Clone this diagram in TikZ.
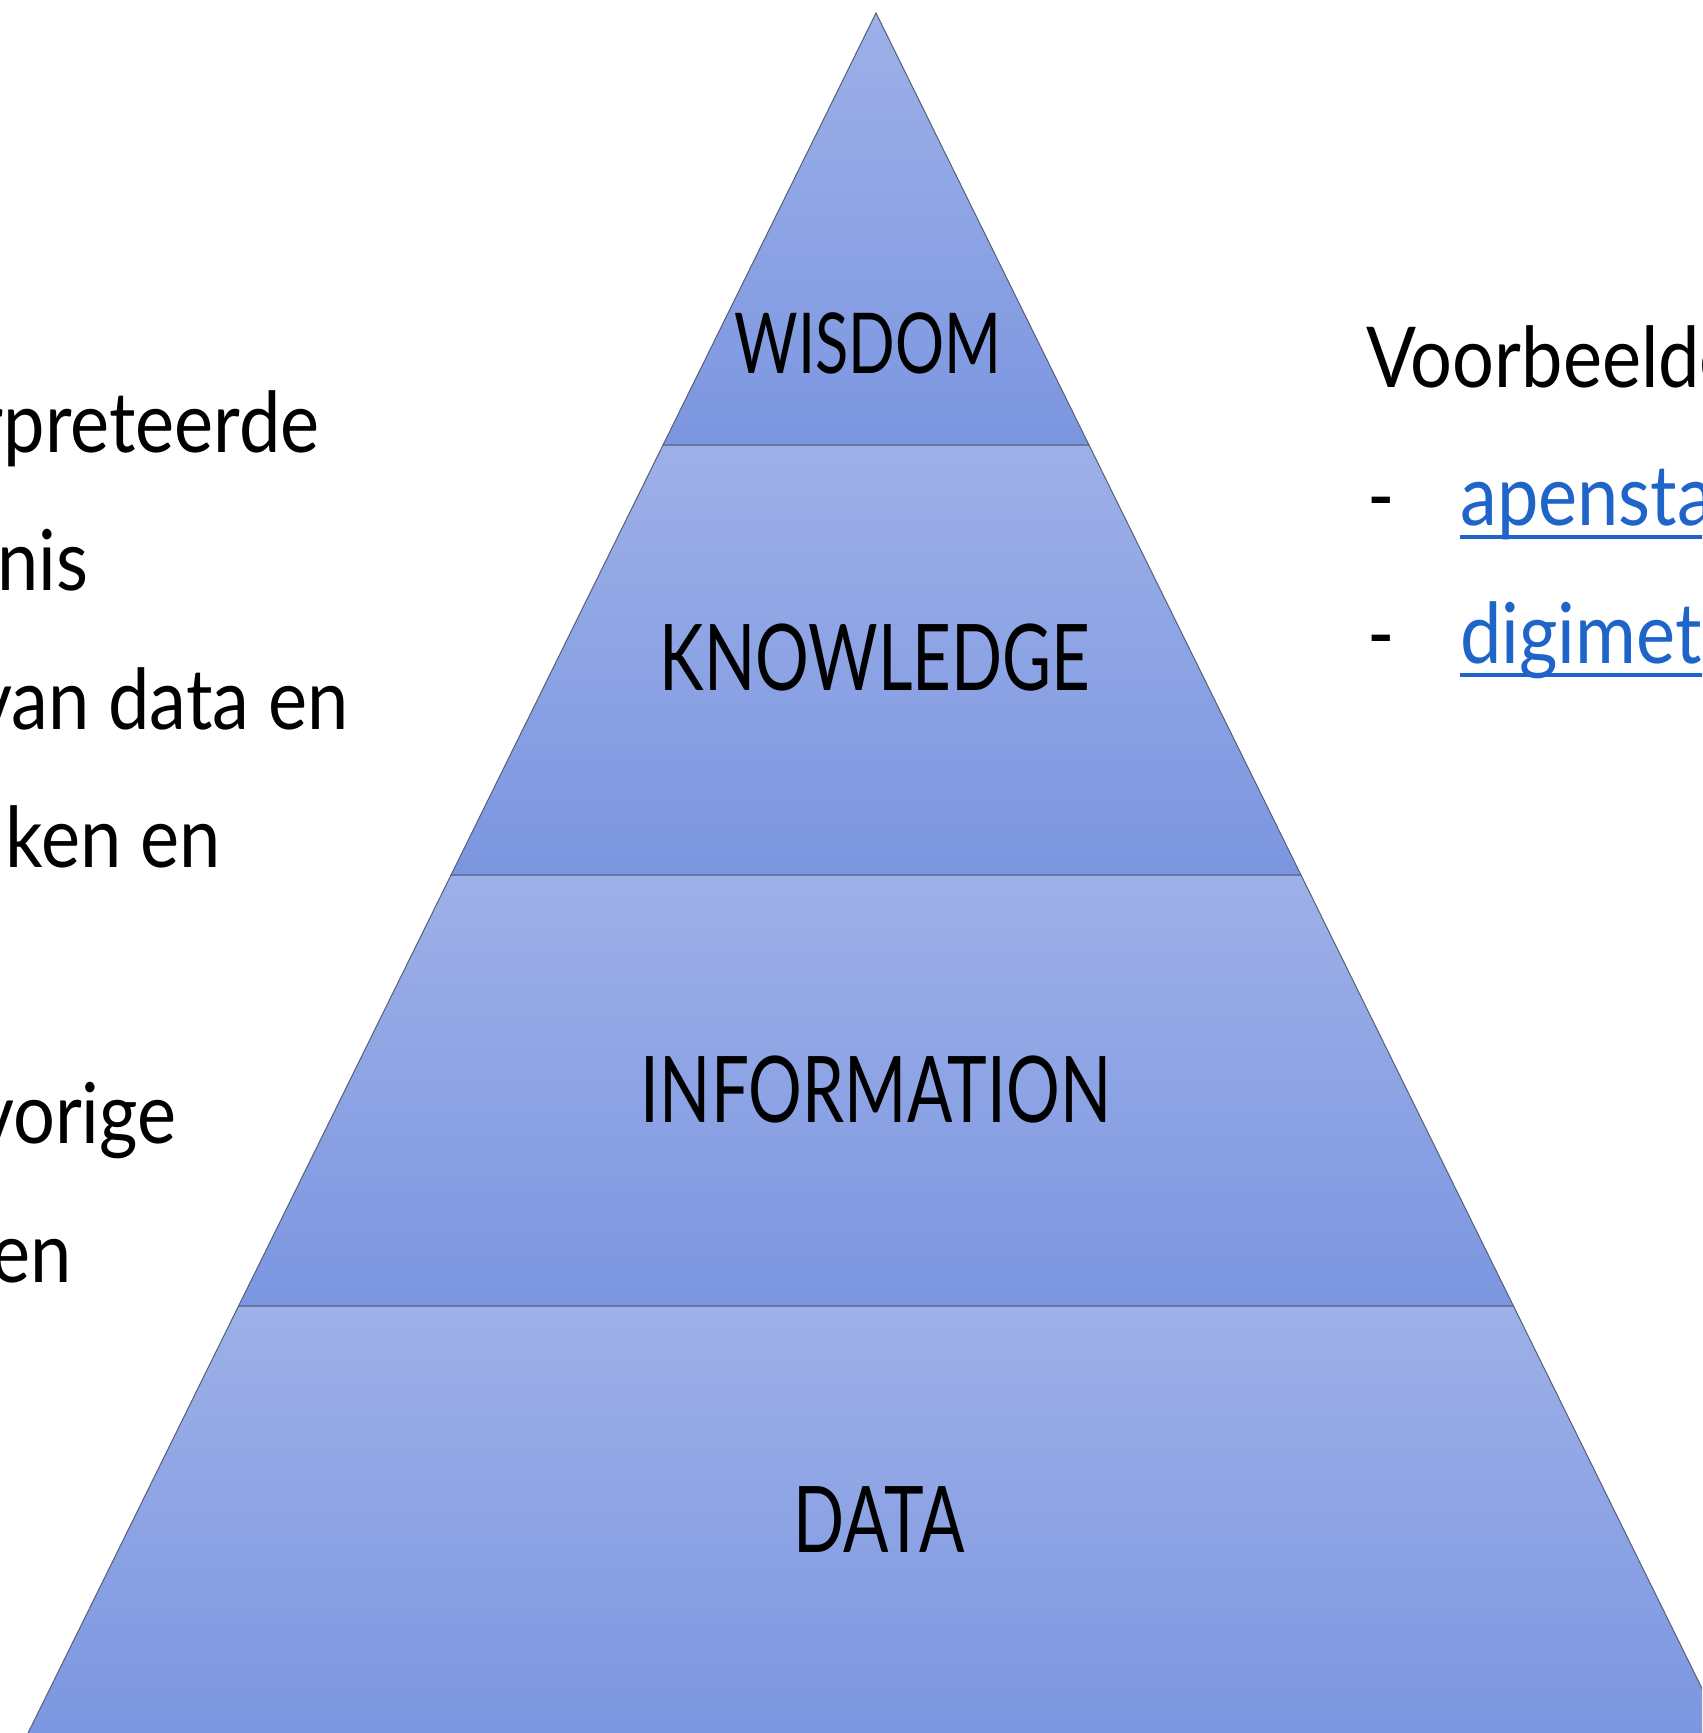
\documentclass[tikz,border=0pt]{standalone}
\usepackage{fontspec}
\setmainfont{Lato}[FakeStretch=0.88]
\newfontfamily\layerfont{Lato}[FakeStretch=0.73]
\usetikzlibrary{positioning}
\definecolor{layerTop}{RGB}{158,176,232}
\definecolor{layerBottom}{RGB}{123,150,224}
\definecolor{layerLine}{RGB}{85,95,120}
\definecolor{linkBlue}{RGB}{31,100,200}

\begin{document}
\begin{tikzpicture}
[x=0.5pt,y=-0.5pt,%
  layerDecorate/.style={top color=layerTop,bottom color=layerBottom,draw=layerLine,line width=0.5pt},%
  labelDecorate/.style={inner sep=0pt},%
  textDecorate/.style={font=\fontsize{42}{50}\selectfont,inner sep=0pt},%
  linkDecorate/.style={textDecorate,text=linkBlue},%
  underlineDecorate/.style={draw=linkBlue,line width=2pt}]
\useasboundingbox (0,0) rectangle (1702,1733);
\clip (0,0) rectangle (1702,1733);
%% pyramid layers
\foreach \nodename/\ytop/\ybot in {
  wisdomLayer/13/445, knowledgeLayer/445/875,
  informationLayer/875/1306, dataLayer/1306/1740}
{
  \pgfmathsetmacro{\dtop}{0.493*(\ytop-13)}
  \pgfmathsetmacro{\dbot}{0.493*(\ybot-13)}
  \path[layerDecorate] ({876-\dtop},\ytop) -- ({876+\dtop},\ytop)
    -- ({876+\dbot},\ybot) -- ({876-\dbot},\ybot) -- cycle;
}
%% layer labels
\foreach \nodename/\x/\y/\size/\word in {
  wisdom/868/343/42/WISDOM, knowledge/875/658/46/KNOWLEDGE,
  information/876/1090/46/INFORMATION, data/879/1520/46/DATA}
{
  \node[labelDecorate,font=\layerfont\fontsize{\size}{50}\selectfont] (\nodename) at (\x,\y) {\word};
}
%% text on the left
\foreach \nodename/\x/\y/\words in {
  leftA/320/452/rpreteerde, leftB/89/590/nis, leftC/349/729/van data en,
  leftD/221/867/aken en, leftE/177/1143/vorige, leftF/72/1282/en}
{
  \node[textDecorate,anchor=base east] (\nodename) at (\x,\y) {\words};
}
%% examples on the right
\node[textDecorate,anchor=base west] (examples) at (1366,387) {Voorbeelden:};
\node[textDecorate,anchor=base west] (dashA) at (1367,525) {-};
\node[textDecorate,anchor=base west] (dashB) at (1367,663) {-};
\node[linkDecorate,anchor=base west] (apenstaartjes) at (1460,525) {apenstaartjaren};
\node[linkDecorate,anchor=base west] (digimeter) at (1460,663) {digimeter};
\draw[underlineDecorate] ([yshift=-6pt]apenstaartjes.base west) -- ([yshift=-6pt]apenstaartjes.base east);
\draw[underlineDecorate] ([yshift=-6pt]digimeter.base west) -- ([yshift=-6pt]digimeter.base east);
\end{tikzpicture}
\end{document}
